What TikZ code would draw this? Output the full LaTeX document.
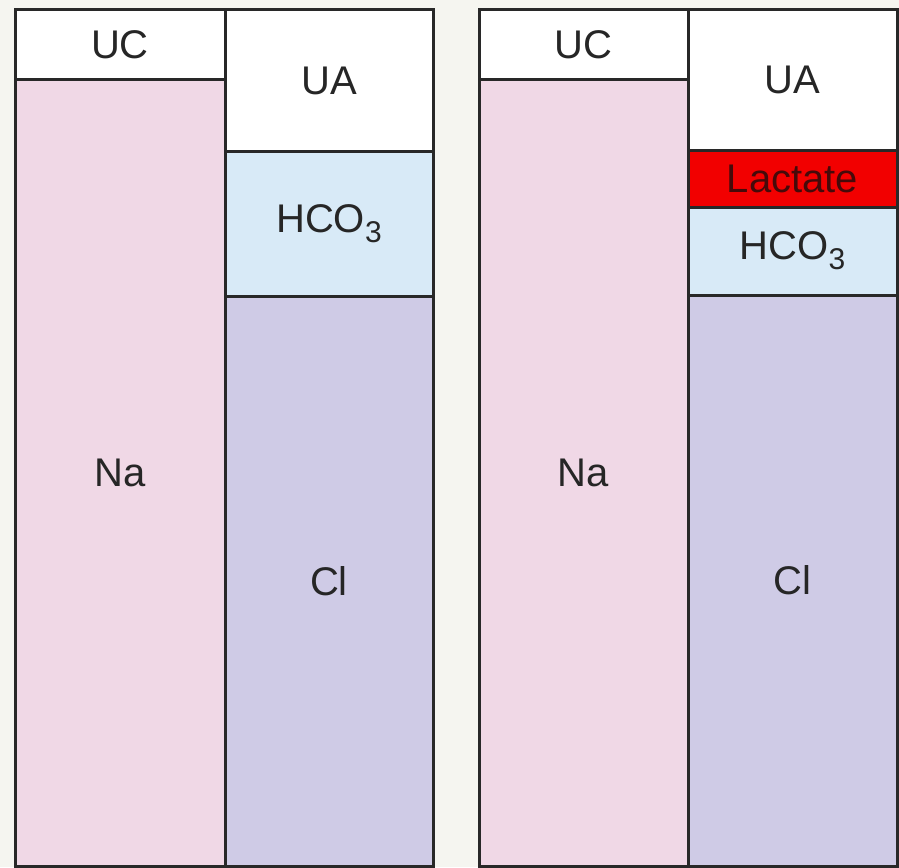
\documentclass[tikz,border=0pt]{standalone}
\usepackage{fontspec}
\setmainfont{Liberation Sans}
\usepackage{xcolor}
\usetikzlibrary{positioning}

\definecolor{bgcol}{RGB}{245,245,240}
\definecolor{cation}{RGB}{240,216,230}
\definecolor{bicarb}{RGB}{216,234,247}
\definecolor{chloride}{RGB}{207,203,230}
\definecolor{lactate}{RGB}{242,0,0}
\definecolor{edge}{RGB}{40,40,40}

\newcommand{\bicarbtext}{HCO\raisebox{-10pt}{\fontsize{30}{30}\selectfont 3}}

\begin{document}
\begin{tikzpicture}[x=1pt, y=-1pt, % one unit is one pixel, y grows downwards
  node distance=0pt, % stacked boxes share their borders
  every node/.style={font=\fontsize{40}{48}\selectfont, text=black!85},
  ion/.style={draw=edge, line width=3pt, rectangle, outer sep=0pt, inner sep=0pt, anchor=north west}, % one ion block
]
    \fill[bgcol] (0,0) rectangle (899,867);
    \useasboundingbox (0,0) rectangle (899,867);

    % left gamblegram
    \node[ion, fill=white, minimum width=210pt, minimum height=69pt] (uc1) at (15,10) {UC};
    \node[ion, fill=cation, below=of uc1, minimum width=210pt, minimum height=787pt] (na1) {Na};
    \node[ion, fill=white, minimum width=208pt, minimum height=141pt] (ua1) at (uc1.north east) {UA};
    \node[ion, fill=bicarb, below=of ua1, minimum width=208pt, minimum height=145pt] (hco1) {\bicarbtext};
    \node[ion, fill=chloride, below=of hco1, minimum width=208pt, minimum height=570pt] (cl1) {Cl};

    % right gamblegram, with lactate
    \node[ion, fill=white, minimum width=209pt, minimum height=69pt] (uc2) at (479,10) {UC};
    \node[ion, fill=cation, below=of uc2, minimum width=209pt, minimum height=787pt] (na2) {Na};
    \node[ion, fill=white, minimum width=209pt, minimum height=140pt] (ua2) at (uc2.north east) {UA};
    \node[ion, fill=lactate, below=of ua2, minimum width=209pt, minimum height=57pt, text={rgb,255:red,70;green,10;blue,10}] (lac2) {Lactate};
    \node[ion, fill=bicarb, below=of lac2, minimum width=209pt, minimum height=88pt] (hco2) {\bicarbtext};
    \node[ion, fill=chloride, below=of hco2, minimum width=209pt, minimum height=571pt] (cl2) {Cl};
\end{tikzpicture}
\end{document}
